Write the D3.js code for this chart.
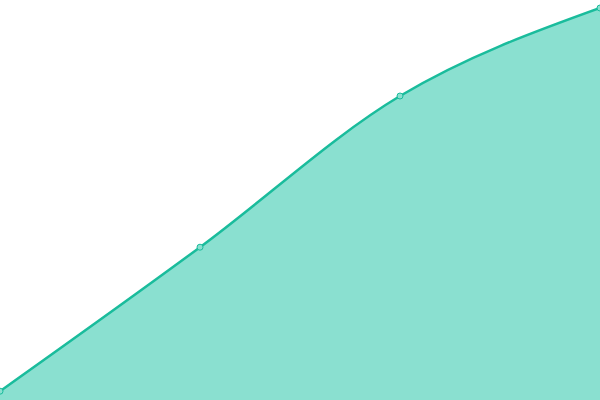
<!DOCTYPE html>
<html><head><meta charset="utf-8">
<script src="https://cdn.jsdelivr.net/npm/d3@7"></script>
<style>html,body{margin:0;padding:0;background:#fff;}svg{display:block;}</style>
</head><body>
<svg id="c" width="600" height="400"></svg>
<script>
const categories = [0, 1, 2, 3];
const values = [2.2, 38.2, 76, 98];

const W = 600, H = 400;
const svg = d3.select("#c");
const x = d3.scaleLinear().domain([0, 3]).range([0, W]);
const y = d3.scaleLinear().domain([0, 100]).range([H, 0]);
const data = categories.map((c, i) => ({c, v: values[i]}));

const area = d3.area().x(d => x(d.c)).y0(y(0)).y1(d => y(d.v)).curve(d3.curveMonotoneX);
const line = d3.line().x(d => x(d.c)).y(d => y(d.v)).curve(d3.curveMonotoneX);

svg.append("path").datum(data).attr("d", area).attr("fill", "#8ae0d0");
svg.append("path").datum(data).attr("d", line).attr("fill", "none").attr("stroke", "#1abc9c").attr("stroke-width", 2.5);
svg.selectAll("circle").data(data).join("circle")
  .attr("cx", d => x(d.c)).attr("cy", d => y(d.v)).attr("r", 3)
  .attr("fill", "#8ae0d0").attr("stroke", "#1abc9c").attr("stroke-width", 1);
</script>
</body></html>
